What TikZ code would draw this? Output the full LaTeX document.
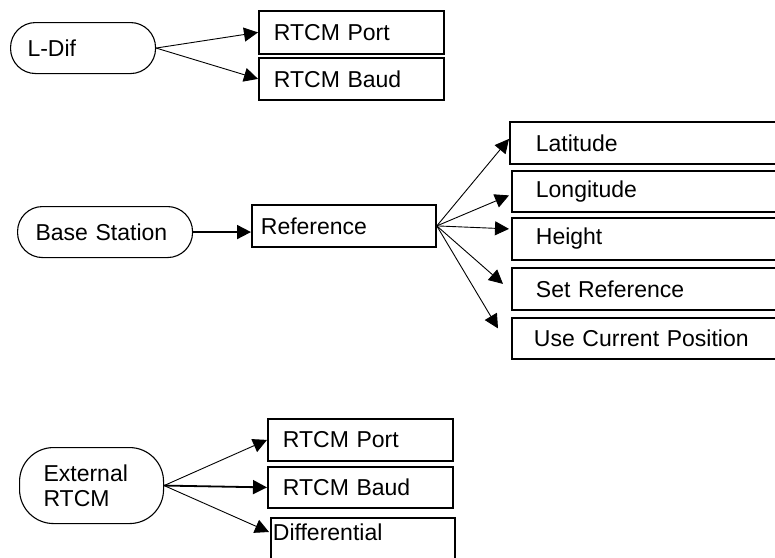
\documentclass[tikz,border=0pt]{standalone}
\usepackage{fontspec}
\setmainfont{Liberation Sans}
\usetikzlibrary{arrows.meta}
\tikzset{
  menu/.style 2 args={draw, line width=1.8pt, anchor=north west, align=left,
    inner xsep=#1, text width=#2, minimum height=42pt},
  mode/.style 2 args={draw, line width=1.1pt, anchor=north west, align=left,
    rounded corners=#2, inner xsep=#1},
  link/.style={line width=0.9pt, -{Triangle[length=14pt,width=14pt]}},
  thicklink/.style={link, line width=1.8pt}
}
\begin{document}
\begin{tikzpicture}[x=1pt, y=-1pt, font=\fontsize{23}{25}\selectfont]
\useasboundingbox (0,0) rectangle (775,557);
\clip (0,0) rectangle (775,557);
\node[mode={17pt}{25pt}, text width=111pt, minimum height=51pt] (ldif) at (10,22) {L-Dif};
\node[menu={15pt}{155pt}, minimum height=43pt] (lport) at (258,10) {RTCM Port};
\node[menu={15pt}{155pt}] (lbaud) at (258,57) {RTCM Baud};
\draw[link] (ldif.east) -- (lport.west);
\draw[link] (ldif.east) -- (lbaud.west);

\node[mode={18pt}{25pt}, text width=139pt, minimum height=51pt] (base) at (17,206) {Base Station};
\node[menu={9pt}{166pt}] (ref) at (251,204) {Reference};
\draw[thicklink] (base.east) -- (base.east -| ref.west);

\node[menu={26pt}{248pt}] (lat) at (509,121) {Latitude};
\node[menu={24pt}{252pt}, minimum height=41pt] (lon) at (511,170) {Longitude};
\node[menu={24pt}{252pt}] (hgt) at (511,217) {Height};
\node[menu={24pt}{252pt}] (setref) at (511,267) {Set Reference};
\node[menu={22pt}{256pt}, minimum height=41pt] (ucp) at (511,317) {Use Current Position};
\draw[link] (ref.east) -- ([shift={(0,-4)}]lat.west);
\draw[link] (ref.east) -- ([shift={(-2,4)}]lon.west);
\draw[link] (ref.east) -- ([shift={(-2,-10)}]hgt.west);
\draw[link] (ref.east) -- ([shift={(-8,-5)}]setref.west);
\draw[link] (ref.east) -- ([shift={(-13,-10)}]ucp.west);

\node[mode={24pt}{34pt}, text width=96pt, minimum height=76pt] (ext) at (19,447) {External\\RTCM};
\node[menu={15pt}{155pt}] (eport) at (267,418) {RTCM Port};
\node[menu={15pt}{155pt}, minimum height=41pt] (ebaud) at (267,466) {RTCM Baud};
\node[menu={2pt}{180pt}, inner ysep=6pt, text depth=30pt] (diff) at (270,517) {Differential};
\draw[link] (ext.east) -- (eport.west);
\draw[thicklink] (ext.east) -- (ebaud.west);
\draw[link] (ext.east) -- ([shift={(-1,15)}]diff.north west);
\end{tikzpicture}
\end{document}
